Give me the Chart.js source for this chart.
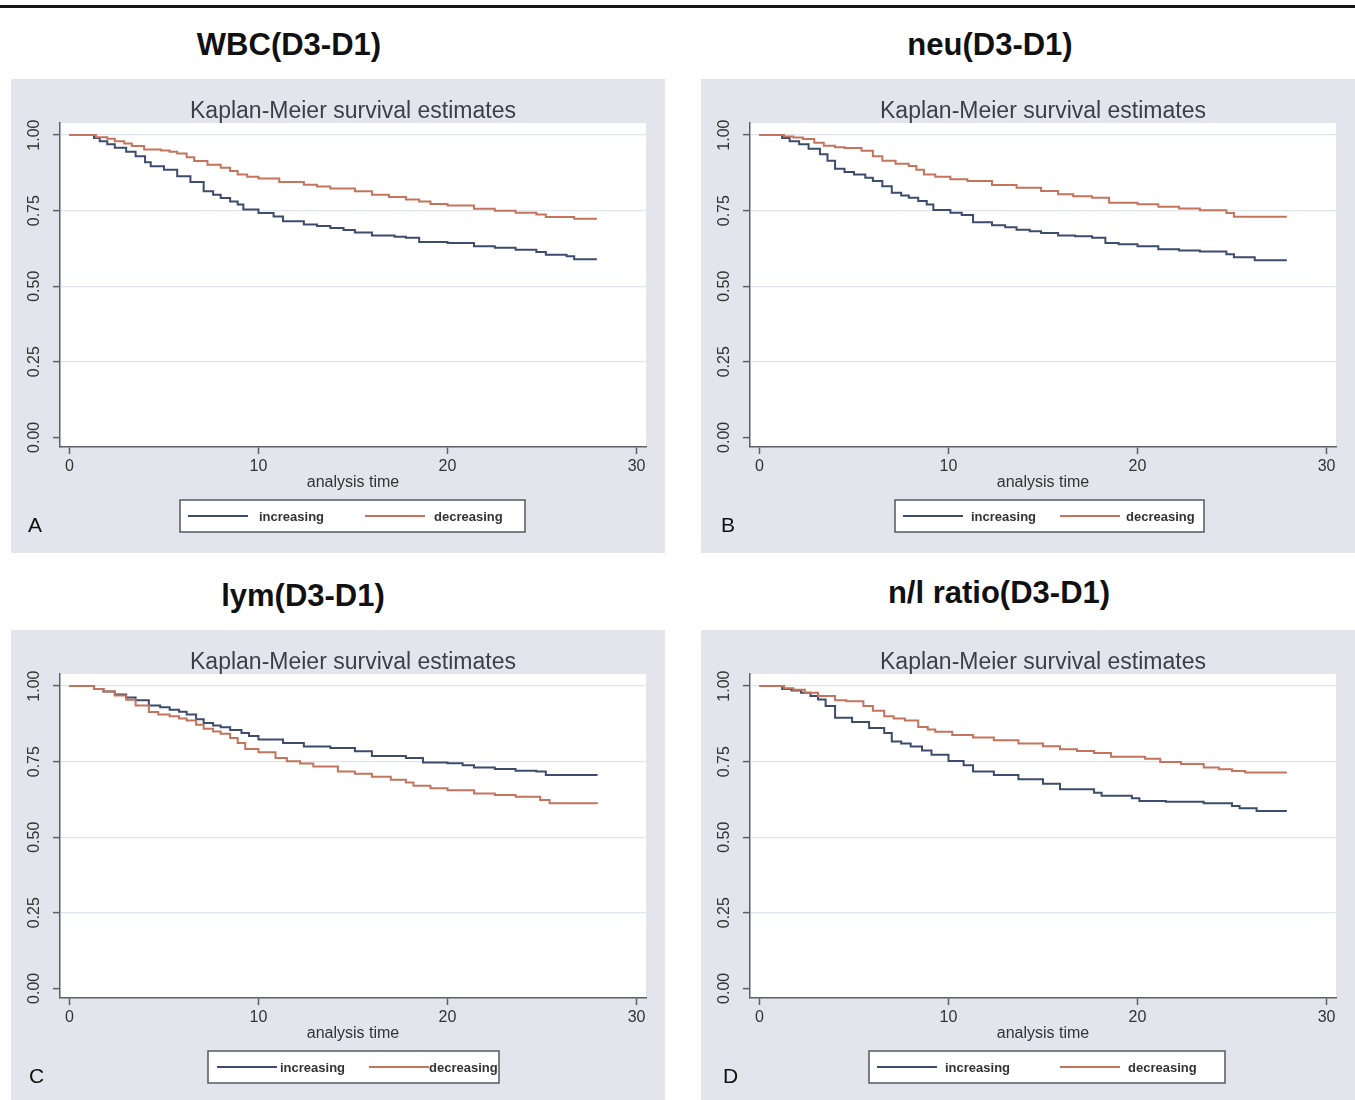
<!DOCTYPE html>
<html>
<head>
<meta charset="utf-8">
<title>Kaplan-Meier survival estimates</title>
<script src="https://cdn.jsdelivr.net/npm/chart.js@4.4.1/dist/chart.umd.min.js"></script>
<style>
html,body{margin:0;padding:0;background:#fff;overflow:hidden}
#page{position:relative;width:1355px;height:1100px}
.rule{position:absolute;left:0;top:5px;width:1355px;height:3px;background:#161616}
.head{position:absolute;width:400px;text-align:center;font:bold 31px "Liberation Sans",Arial,sans-serif;color:#111;line-height:1;white-space:nowrap}
.panel{position:absolute;width:654px;height:474px;background:#e4e5ec}
.panel canvas{display:block}
</style>
</head>
<body>
<div id="page"><div class="rule"></div></div>
<script>
'use strict';

/* ── DATA ── */
const X_TICKS=[0,10,20,30];
const Y_TICKS=[0,0.25,0.5,0.75,1];
const SERIES=['increasing','decreasing'];

// A — WBC(D3-D1)
const WBC_INC_T=[0,1.3,1.6,2.0,2.4,3.0,3.5,4.0,4.3,5.0,5.7,6.4,7.1,7.6,8.0,8.5,8.9,9.2,10.0,10.8,11.3,12.4,13.1,13.8,14.5,15.1,16.0,17.2,17.8,18.5,20.0,21.4,22.5,23.6,24.7,25.2,26.3,26.7,27.9];
const WBC_INC_S=[1,0.99,0.98,0.97,0.958,0.945,0.930,0.910,0.897,0.885,0.864,0.845,0.814,0.803,0.792,0.780,0.770,0.754,0.742,0.731,0.715,0.704,0.699,0.693,0.686,0.678,0.668,0.664,0.660,0.646,0.643,0.632,0.627,0.621,0.613,0.604,0.599,0.589,0.589];
const WBC_DEC_T=[0,1.4,2.0,2.4,2.9,3.3,3.95,4.85,5.3,5.7,6.2,6.6,7.3,8.0,8.5,8.9,9.4,10.0,11.1,12.4,13.1,13.8,15.1,16.0,16.9,17.8,18.5,19.1,20.0,21.4,22.5,23.6,24.7,25.2,26.7,27.9];
const WBC_DEC_S=[1,0.993,0.988,0.980,0.972,0.964,0.952,0.949,0.945,0.939,0.927,0.914,0.902,0.892,0.881,0.870,0.862,0.856,0.845,0.836,0.830,0.823,0.814,0.803,0.795,0.787,0.780,0.772,0.767,0.756,0.750,0.743,0.737,0.729,0.723,0.723];

// B — neu(D3-D1)
const NEU_INC_T=[0,1.2,1.6,2.1,2.6,3.2,3.6,4.0,4.5,5.0,5.6,6.0,6.5,7.0,7.5,7.9,8.4,8.85,9.2,10.1,10.7,11.3,12.3,13.0,13.6,14.3,14.9,15.8,16.7,17.6,18.3,19.0,20.0,21.1,22.2,23.3,24.7,25.1,26.2,27.9];
const NEU_INC_S=[1,0.99,0.98,0.970,0.955,0.937,0.915,0.889,0.878,0.870,0.859,0.848,0.831,0.809,0.800,0.793,0.782,0.770,0.752,0.743,0.736,0.712,0.702,0.695,0.687,0.682,0.676,0.668,0.665,0.660,0.643,0.639,0.632,0.622,0.618,0.615,0.606,0.596,0.586,0.586];
const NEU_DEC_T=[0,1.3,1.8,2.3,2.9,3.4,4.0,4.5,5.4,6.0,6.5,7.2,7.9,8.3,8.7,9.3,10.1,11.0,12.3,13.6,14.9,15.8,16.6,17.6,18.5,20.0,21.1,22.2,23.3,24.7,25.1,27.9];
const NEU_DEC_S=[1,0.995,0.992,0.987,0.975,0.965,0.960,0.957,0.948,0.930,0.915,0.905,0.898,0.885,0.870,0.862,0.854,0.848,0.835,0.826,0.815,0.804,0.798,0.793,0.776,0.771,0.763,0.757,0.751,0.742,0.730,0.730];

// C — lym(D3-D1)
const LYM_INC_T=[0,1.3,1.8,2.4,3.0,3.5,4.2,4.8,5.3,5.8,6.2,6.7,7.1,7.6,8.0,8.5,9.1,9.5,10.0,11.3,12.4,13.8,15.1,16.0,17.8,18.7,20.0,20.8,21.4,22.5,23.6,24.7,25.2,27.9];
const LYM_INC_S=[1,0.99,0.982,0.972,0.962,0.953,0.936,0.930,0.922,0.915,0.906,0.890,0.878,0.870,0.864,0.855,0.845,0.835,0.823,0.812,0.800,0.795,0.784,0.769,0.762,0.747,0.745,0.738,0.731,0.726,0.720,0.717,0.706,0.704];
const LYM_DEC_T=[0,1.3,1.8,2.4,3.0,3.5,4.2,4.7,5.3,5.8,6.2,6.7,7.1,7.6,8.0,8.5,8.9,9.3,10.0,10.9,11.5,12.2,12.9,14.2,15.1,16.0,17.0,17.8,18.2,19.1,20.0,21.4,22.5,23.6,24.9,25.4,27.9];
const LYM_DEC_S=[1,0.99,0.982,0.969,0.955,0.936,0.914,0.906,0.900,0.893,0.886,0.872,0.859,0.850,0.842,0.828,0.812,0.792,0.781,0.762,0.751,0.744,0.734,0.717,0.710,0.700,0.690,0.681,0.670,0.662,0.655,0.645,0.640,0.634,0.623,0.612,0.610];

// D — n/l ratio(D3-D1)
const NL_INC_T=[0,1.2,1.7,2.2,2.7,3.1,3.5,4.0,4.9,5.8,6.6,7.0,7.5,8.0,8.6,9.1,10.0,10.8,11.3,12.4,13.7,15.0,15.9,17.7,18.1,19.7,20.1,21.5,23.5,25.0,25.4,26.3,27.9];
const NL_INC_S=[1,0.99,0.985,0.978,0.967,0.956,0.934,0.895,0.881,0.861,0.845,0.817,0.810,0.800,0.787,0.773,0.752,0.738,0.717,0.706,0.692,0.677,0.659,0.647,0.637,0.629,0.620,0.617,0.612,0.603,0.596,0.587,0.587];
const NL_DEC_T=[0,1.3,1.8,2.4,3.1,4.0,4.6,5.5,6.0,6.6,7.1,7.7,8.4,8.9,9.3,10.2,11.3,12.4,13.7,15.0,15.9,16.8,17.7,18.6,20.4,21.2,22.3,23.5,24.3,25.0,25.7,27.9];
const NL_DEC_S=[1,0.993,0.988,0.978,0.967,0.953,0.950,0.934,0.918,0.900,0.893,0.886,0.865,0.856,0.849,0.838,0.830,0.821,0.810,0.801,0.791,0.785,0.779,0.766,0.760,0.749,0.742,0.731,0.725,0.719,0.714,0.714];

/* ── LOOK ── */
const FONT='"Liberation Sans", Arial, Helvetica, sans-serif';
const BLUE='#3d4b6c', ORANGE='#c4745d';
const AXIS='#5c5f66', GRID='#dfe5eb', TXT='#333';
Chart.defaults.font.family=FONT;

// panel placement + legend layout (legend x's are relative to plot centre)
const PANELS=[
  {letter:'A',head:'WBC(D3-D1)',left:11,top:79,headX:289,headTop:29,letterX:17,
   inc:[WBC_INC_T,WBC_INC_S],dec:[WBC_DEC_T,WBC_DEC_S],
   legend:{box:[-173,172],items:[[-165,-94],[12,81]]}},
  {letter:'B',head:'neu(D3-D1)',left:701,top:79,headX:990,headTop:29,letterX:20,
   inc:[NEU_INC_T,NEU_INC_S],dec:[NEU_DEC_T,NEU_DEC_S],
   legend:{box:[-148,161],items:[[-140,-72],[17,83]]}},
  {letter:'C',head:'lym(D3-D1)',left:11,top:630,headX:303,headTop:580,letterX:18,
   inc:[LYM_INC_T,LYM_INC_S],dec:[LYM_DEC_T,LYM_DEC_S],
   legend:{box:[-145,146],items:[[-136,-73],[16,76]]}},
  {letter:'D',head:'n/l ratio(D3-D1)',left:701,top:630,headX:999,headTop:577,letterX:22,
   inc:[NL_INC_T,NL_INC_S],dec:[NL_DEC_T,NL_DEC_S],
   legend:{box:[-174,182],items:[[-166,-98],[17,85]]}}
];

function pts(T,S){return T.map((t,i)=>({x:t,y:S[i]}));}

/* ── DECORATION PLUGIN: white plot region, KM title, rotated y labels, legend box, panel letter ── */
const panelDeco={
  id:'panelDeco',
  beforeDraw(chart){
    const {ctx,chartArea:a}=chart;
    ctx.save();
    ctx.fillStyle='#fff';
    ctx.fillRect(a.left,a.top,a.right-a.left,a.bottom-a.top);
    ctx.restore();
  },
  afterDraw(chart,args,o){
    const {ctx,chartArea:a,scales}=chart;
    const cx=(a.left+a.right)/2;
    ctx.save();
    ctx.textAlign='center';ctx.textBaseline='middle';
    // subtitle
    ctx.fillStyle='#3b3f4a';
    ctx.font='23px '+FONT;
    ctx.fillText('Kaplan-Meier survival estimates',cx,33);
    // y tick labels, rotated like Stata
    ctx.fillStyle=TXT;
    ctx.font='16px '+FONT;
    Y_TICKS.forEach(v=>{
      const y=scales.y.getPixelForValue(v);
      ctx.save();ctx.translate(24,y);ctx.rotate(-Math.PI/2);
      ctx.fillText(v.toFixed(2),0,0);
      ctx.restore();
    });
    // legend
    const L=o.legend, top=421, h=32, my=top+h/2;
    ctx.fillStyle='#fff';
    ctx.fillRect(cx+L.box[0],top,L.box[1]-L.box[0],h);
    ctx.strokeStyle='#55585f';ctx.lineWidth=1.5;
    ctx.strokeRect(cx+L.box[0],top,L.box[1]-L.box[0],h);
    ctx.textAlign='left';
    ctx.font='bold 13px '+FONT;
    chart.data.datasets.forEach((ds,i)=>{
      const [lx,tx]=L.items[i];
      ctx.strokeStyle=ds.borderColor;ctx.lineWidth=2;
      ctx.beginPath();ctx.moveTo(cx+lx,my);ctx.lineTo(cx+lx+60,my);ctx.stroke();
      ctx.fillStyle=TXT;
      ctx.fillText(ds.label,cx+tx,my+1);
    });
    // panel letter
    ctx.textBaseline='alphabetic';
    ctx.fillStyle='#111';
    ctx.font='21px '+FONT;
    ctx.fillText(o.letter,o.letterX,453);
    ctx.restore();
  }
};

/* ── BUILD ── */
const page=document.getElementById('page');
PANELS.forEach(p=>{
  const hd=document.createElement('div');
  hd.className='head';
  hd.style.left=(p.headX-200)+'px';
  hd.style.top=p.headTop+'px';
  hd.textContent=p.head;
  page.appendChild(hd);

  const box=document.createElement('div');
  box.className='panel';
  box.style.left=p.left+'px';
  box.style.top=p.top+'px';
  const cv=document.createElement('canvas');
  cv.width=654;cv.height=474;
  cv.style.width='654px';cv.style.height='474px';
  box.appendChild(cv);
  page.appendChild(box);

  new Chart(cv,{
    type:'line',
    data:{datasets:[
      {label:SERIES[0],data:pts(p.inc[0],p.inc[1]),borderColor:BLUE,borderWidth:2,
       stepped:true,pointRadius:0,fill:false,order:1},
      {label:SERIES[1],data:pts(p.dec[0],p.dec[1]),borderColor:ORANGE,borderWidth:2,
       stepped:true,pointRadius:0,fill:false,order:0}
    ]},
    options:{
      responsive:false,animation:false,devicePixelRatio:1,events:[],
      layout:{padding:{top:44,right:19,left:0,bottom:0}},
      plugins:{
        legend:{display:false},title:{display:false},tooltip:{enabled:false},
        panelDeco:{letter:p.letter,letterX:p.letterX,legend:p.legend}
      },
      scales:{
        x:{
          type:'linear',min:-0.5,max:30.5,
          afterBuildTicks:s=>{s.ticks=X_TICKS.map(v=>({value:v}));},
          afterFit:s=>{s.height=106;},
          grid:{drawOnChartArea:false,drawTicks:true,tickLength:7,tickColor:AXIS,tickWidth:1.5},
          border:{color:AXIS,width:1.5},
          ticks:{color:TXT,font:{size:16},padding:3,maxRotation:0,autoSkip:false},
          title:{display:true,text:'analysis time',color:TXT,font:{size:16},padding:{top:0,bottom:61}}
        },
        y:{
          type:'linear',min:-0.032,max:1.04,
          afterBuildTicks:s=>{s.ticks=Y_TICKS.map(v=>({value:v}));},
          afterFit:s=>{s.width=49;},
          grid:{color:c=>(c.tick&&c.tick.value===0)?'rgba(0,0,0,0)':GRID,lineWidth:1.2,
                drawTicks:true,tickLength:7,tickColor:AXIS,tickWidth:1.5},
          border:{color:AXIS,width:1.5},
          ticks:{display:false}
        }
      }
    },
    plugins:[panelDeco]
  });
});
</script>
</body>
</html>
